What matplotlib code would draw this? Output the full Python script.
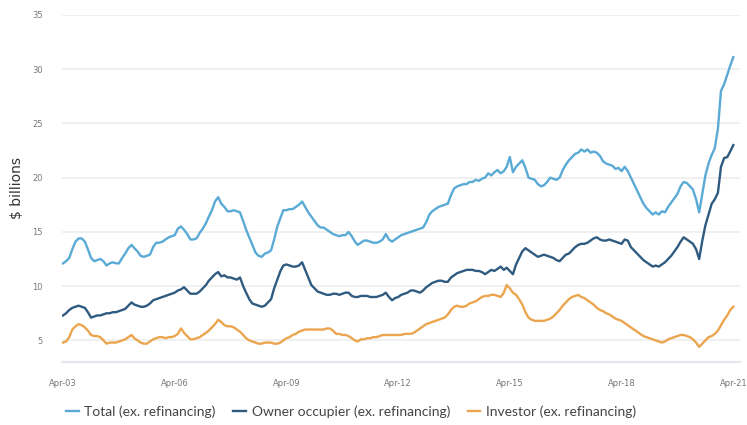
import numpy as np
import pandas as pd
import matplotlib
matplotlib.use('Agg')
import matplotlib.pyplot as plt
import matplotlib.dates as mdates


# monthly new housing loan commitments, $ billions, Apr-2003 .. Apr-2021
START = '2003-04-01'

total = [
    12.1, 12.3, 12.6, 13.4, 14.1, 14.4, 14.4, 14.1, 13.4, 12.6, 12.3, 12.4,
    12.5, 12.3, 11.9, 12.1, 12.2, 12.1, 12.1, 12.6, 13.0, 13.5, 13.8, 13.5,
    13.2, 12.8, 12.7, 12.8, 12.9, 13.6, 14.0, 14.0, 14.1, 14.3, 14.5, 14.6,
    14.7, 15.3, 15.5, 15.2, 14.8, 14.3, 14.3, 14.4, 14.9, 15.3, 15.8, 16.4,
    17.0, 17.8, 18.2, 17.6, 17.3, 16.9, 16.9, 17.0, 16.9, 16.8, 16.0, 15.2,
    14.5, 13.8, 13.1, 12.8, 12.7, 13.0, 13.1, 13.3, 14.3, 15.5, 16.3, 17.0,
    17.0, 17.1, 17.1, 17.3, 17.5, 17.8, 17.3, 16.8, 16.4, 16.0, 15.6, 15.4,
    15.4, 15.2, 15.0, 14.8, 14.7, 14.6, 14.7, 14.7, 15.0, 14.6, 14.1, 13.8,
    14.0, 14.2, 14.2, 14.1, 14.0, 14.0, 14.1, 14.3, 14.8, 14.3, 14.1, 14.3,
    14.5, 14.7, 14.8, 14.9, 15.0, 15.1, 15.2, 15.3, 15.4, 15.9, 16.6, 16.9,
    17.1, 17.3, 17.4, 17.5, 17.6, 18.4, 19.0, 19.2, 19.3, 19.4, 19.4, 19.6,
    19.6, 19.8, 19.7, 19.9, 20.0, 20.4, 20.2, 20.5, 20.7, 20.4, 20.6, 21.0,
    21.9, 20.5, 21.0, 21.3, 21.6, 20.9, 20.0, 19.9, 19.8, 19.4, 19.2, 19.3,
    19.6, 20.0, 19.9, 19.8, 20.0, 20.7, 21.2, 21.6, 21.9, 22.2, 22.3, 22.6,
    22.4, 22.6, 22.3, 22.4, 22.3, 22.0, 21.5, 21.3, 21.2, 21.1, 20.8, 20.9,
    20.6, 21.0, 20.6, 20.0, 19.4, 18.8, 18.2, 17.6, 17.2, 16.9, 16.6, 16.8,
    16.6, 16.9, 16.8, 17.3, 17.7, 18.1, 18.5, 19.2, 19.6, 19.5, 19.2, 18.9,
    18.0, 16.8, 18.5, 20.2, 21.3, 22.1, 22.7, 24.5, 28.0, 28.6, 29.5, 30.3,
    31.1,
]

owner_occupier = [
    7.3, 7.5, 7.8, 8.0, 8.1, 8.2, 8.1, 8.0, 7.6, 7.1, 7.2, 7.3,
    7.3, 7.4, 7.5, 7.5, 7.6, 7.6, 7.7, 7.8, 7.9, 8.2, 8.5, 8.3,
    8.2, 8.1, 8.1, 8.2, 8.4, 8.7, 8.8, 8.9, 9.0, 9.1, 9.2, 9.3,
    9.4, 9.6, 9.7, 9.9, 9.6, 9.3, 9.3, 9.3, 9.5, 9.8, 10.1, 10.5,
    10.8, 11.1, 11.3, 10.9, 11.0, 10.8, 10.8, 10.7, 10.6, 10.8, 10.0, 9.4,
    8.8, 8.4, 8.3, 8.2, 8.1, 8.2, 8.5, 8.8, 9.8, 10.6, 11.4, 11.9,
    12.0, 11.9, 11.8, 11.8, 11.9, 12.2, 11.5, 10.8, 10.1, 9.8, 9.5, 9.4,
    9.3, 9.2, 9.2, 9.3, 9.3, 9.2, 9.3, 9.4, 9.4, 9.1, 9.0, 9.0,
    9.1, 9.1, 9.1, 9.0, 9.0, 9.0, 9.1, 9.2, 9.4, 9.0, 8.7, 8.9,
    9.0, 9.2, 9.3, 9.4, 9.6, 9.6, 9.5, 9.4, 9.6, 9.9, 10.1, 10.3,
    10.4, 10.5, 10.5, 10.4, 10.4, 10.8, 11.0, 11.2, 11.3, 11.4, 11.5, 11.5,
    11.5, 11.4, 11.4, 11.3, 11.1, 11.3, 11.5, 11.4, 11.6, 11.8, 11.5, 11.7,
    11.4, 11.1, 12.0, 12.6, 13.2, 13.5, 13.3, 13.1, 12.9, 12.7, 12.8, 12.9,
    12.8, 12.7, 12.6, 12.4, 12.3, 12.6, 12.9, 13.0, 13.3, 13.6, 13.8, 13.9,
    13.9, 14.0, 14.2, 14.4, 14.5, 14.3, 14.2, 14.2, 14.3, 14.2, 14.1, 14.0,
    13.9, 14.3, 14.2, 13.6, 13.3, 13.0, 12.7, 12.4, 12.2, 12.0, 11.8, 11.9,
    11.8, 12.0, 12.2, 12.5, 12.8, 13.2, 13.6, 14.1, 14.5, 14.3, 14.1, 13.9,
    13.4, 12.5, 14.2, 15.6, 16.6, 17.6, 18.0, 18.6, 21.0, 21.8, 21.9, 22.4,
    23.0,
]

investor = [
    4.8, 4.9, 5.3, 6.0, 6.3, 6.5, 6.4, 6.2, 5.9, 5.5, 5.4, 5.4,
    5.3, 5.0, 4.7, 4.8, 4.8, 4.8, 4.9, 5.0, 5.1, 5.3, 5.5, 5.2,
    5.0, 4.8, 4.7, 4.7, 4.9, 5.1, 5.2, 5.3, 5.3, 5.2, 5.3, 5.3,
    5.4, 5.6, 6.1, 5.7, 5.4, 5.1, 5.1, 5.2, 5.3, 5.5, 5.7, 5.9,
    6.2, 6.5, 6.9, 6.7, 6.4, 6.3, 6.3, 6.2, 6.0, 5.8, 5.5, 5.2,
    5.0, 4.9, 4.8, 4.7, 4.7, 4.8, 4.8, 4.8, 4.7, 4.7, 4.8, 5.0,
    5.2, 5.3, 5.5, 5.6, 5.8, 5.9, 6.0, 6.0, 6.0, 6.0, 6.0, 6.0,
    6.0, 6.1, 6.1, 5.9, 5.6, 5.6, 5.5, 5.5, 5.4, 5.2, 5.0, 4.9,
    5.1, 5.1, 5.2, 5.2, 5.3, 5.3, 5.4, 5.5, 5.5, 5.5, 5.5, 5.5,
    5.5, 5.5, 5.6, 5.6, 5.6, 5.7, 5.9, 6.1, 6.3, 6.5, 6.6, 6.7,
    6.8, 6.9, 7.0, 7.1, 7.4, 7.8, 8.1, 8.2, 8.1, 8.1, 8.2, 8.4,
    8.5, 8.6, 8.8, 9.0, 9.1, 9.1, 9.2, 9.2, 9.1, 9.0, 9.4, 10.1,
    9.8, 9.4, 9.2, 8.8, 8.3, 7.6, 7.1, 6.9, 6.8, 6.8, 6.8, 6.8,
    6.9, 7.0, 7.2, 7.5, 7.8, 8.2, 8.5, 8.8, 9.0, 9.1, 9.2, 9.0,
    8.9, 8.7, 8.5, 8.3, 8.0, 7.8, 7.7, 7.5, 7.4, 7.2, 7.0, 6.9,
    6.8, 6.6, 6.4, 6.2, 6.0, 5.8, 5.6, 5.4, 5.3, 5.2, 5.1, 5.0,
    4.9, 4.8, 4.9, 5.1, 5.2, 5.3, 5.4, 5.5, 5.5, 5.4, 5.3, 5.1,
    4.8, 4.4, 4.7, 5.0, 5.3, 5.4, 5.6, 5.9, 6.4, 6.9, 7.3, 7.8,
    8.1,
]

labels = ['Total (ex. refinancing)',
          'Owner occupier (ex. refinancing)',
          'Investor (ex. refinancing)']
colors = ['#5aaad6', '#2f5b80', '#eba54e']

dates = pd.date_range(START, periods=len(total), freq='MS')

fig = plt.figure(figsize=(7.47, 4.25), dpi=100)
ax = fig.add_axes([0.083, 0.148, 0.907, 0.817])

for series, label, color in zip([total, owner_occupier, investor], labels, colors):
    ax.plot(dates, series, color=color, lw=1.7, label=label)

ax.set_ylim(3, 35)
ax.set_yticks(np.arange(5, 36, 5))
ax.set_xlim(pd.Timestamp('2003-03-22'), pd.Timestamp('2021-06-01'))
ax.set_xticks(pd.date_range('2003-04-01', '2021-04-01', freq='36MS'))
ax.xaxis.set_major_formatter(mdates.DateFormatter('%b-%y'))

ax.grid(axis='y', color='#eeeeee', lw=1.2)
ax.set_axisbelow(True)
for side in ['top', 'right', 'left']:
    ax.spines[side].set_visible(False)
ax.spines['bottom'].set_color('#e3e6ec')
ax.spines['bottom'].set_linewidth(1.5)
ax.tick_params(axis='both', length=0, labelsize=6, colors='#777777')
ax.tick_params(axis='x', pad=12)
ax.tick_params(axis='y', pad=14)

ax.set_ylabel('$ billions', fontsize=10, color='#333333', labelpad=6)

fig.legend(loc='lower center', bbox_to_anchor=(0.47, -0.012), ncol=3,
           frameon=False, prop={'family': 'Lato', 'size': 10},
           handlelength=0.9, columnspacing=1.3,
           handletextpad=0.4, labelcolor='#444444')

fig.savefig('out.png', dpi=100)
